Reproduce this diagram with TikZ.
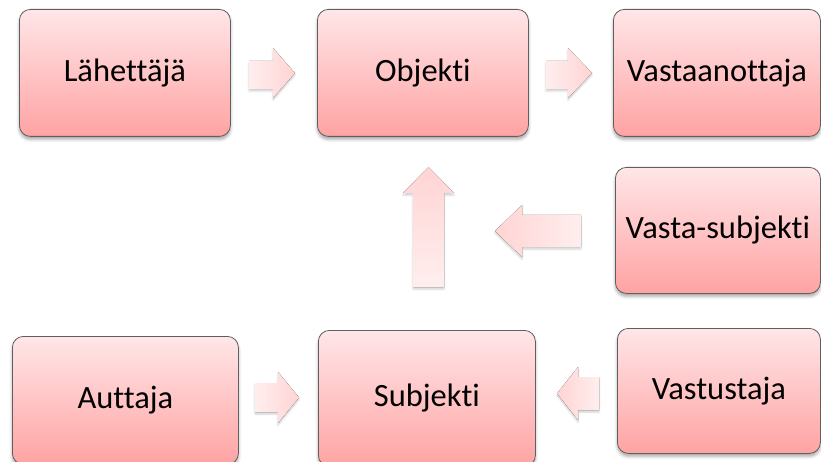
\documentclass[tikz,border=0pt]{standalone}
\usepackage{fontspec}
\setmainfont{Carlito}[Ligatures={NoCommon}]
\usetikzlibrary{shadows.blur}
\definecolor{boxtop}{RGB}{255,230,232}
\definecolor{boxbot}{RGB}{255,163,163}
\definecolor{boxline}{RGB}{95,95,95}
\definecolor{arrpale}{RGB}{255,238,238}
\definecolor{arrpink}{RGB}{255,212,212}
\tikzset{
  rolebox/.style={rectangle, rounded corners=11pt, draw=boxline, line width=0.8pt,
    top color=boxtop, bottom color=boxbot, anchor=north west,
    font=\fontsize{32.5}{36}\selectfont, text=black, inner sep=0pt,
    blur shadow={shadow xshift=0pt, shadow yshift=-3pt, shadow blur radius=3pt, shadow opacity=35}},
  arrshadow/.style={blur shadow={shadow xshift=0pt, shadow yshift=-2pt, shadow blur radius=2pt, shadow opacity=20}},
  arrright/.style={left color=arrpale, right color=arrpink, arrshadow},
  arrleft/.style={left color=arrpink, right color=arrpale, arrshadow},
  arrup/.style={top color=arrpink, bottom color=arrpale, arrshadow},
}
\begin{document}
\begin{tikzpicture}[x=1pt, y=-1pt]
\useasboundingbox (0,0) rectangle (821,462);
\clip (0,0) rectangle (821,462);

% role boxes
\node[rolebox, minimum width=211pt, minimum height=127pt] (sender)   at (19,9)   {Lähettäjä};
\node[rolebox, minimum width=211pt, minimum height=127pt] (object)   at (317,9)  {Objekti};
\node[rolebox, minimum width=207pt, minimum height=127pt] (receiver) at (613,9)  {Vastaanottaja};
\node[rolebox, minimum width=205pt, minimum height=126pt] (counter)  at (615,167) {Vasta-subjekti};
\node[rolebox, minimum width=226pt, minimum height=128pt] (helper)   at (12,336) {Auttaja};
\node[rolebox, minimum width=217pt, minimum height=136pt] (subject)  at (318,330) {Subjekti};
\node[rolebox, minimum width=203pt, minimum height=125pt] (opponent) at (617,328) {Vastustaja};

% block arrows between the boxes
\fill[arrright] (249,61) -- (273,61) -- (273,48) -- (295,73) -- (273,98) -- (273,89) -- (249,89) -- cycle;
\fill[arrright] (546,61) -- (568,61) -- (568,48) -- (592,73) -- (568,98) -- (568,89) -- (546,89) -- cycle;
\fill[arrup] (413,287) -- (413,193) -- (403,193) -- (428.5,167) -- (454,193) -- (444,193) -- (444,287) -- cycle;
\fill[arrleft] (581,215) -- (522,215) -- (522,205) -- (495,231) -- (522,257) -- (522,247) -- (581,247) -- cycle;
\fill[arrright] (255,383) -- (278,383) -- (278,372) -- (299,397.5) -- (278,423) -- (278,412) -- (255,412) -- cycle;
\fill[arrleft] (599,377) -- (578,377) -- (578,367) -- (557,393.5) -- (578,420) -- (578,410) -- (599,410) -- cycle;
\end{tikzpicture}
\end{document}
